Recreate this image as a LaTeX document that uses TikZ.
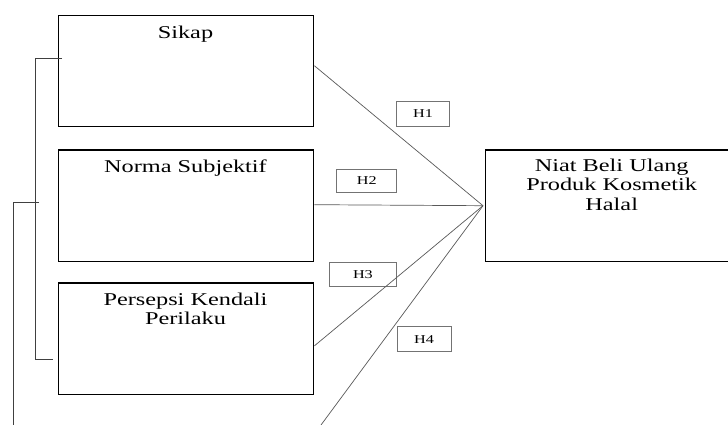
\documentclass[tikz,border=0pt]{standalone}
\usepackage{fontspec}
\setmainfont[FakeStretch=1.35]{Liberation Serif}
\usetikzlibrary{calc}
\begin{document}
\begin{tikzpicture}[x=1pt,y=-1pt,
  varbox/.style={draw=black,line width=1.4pt,rectangle,inner sep=0pt,anchor=north west},
  vartext/.style={font=\fontsize{18}{19.5}\selectfont,align=center,anchor=base,inner sep=0pt,text=black},
  hbox/.style={draw=black!55,line width=0.9pt,rectangle,inner sep=0pt,font=\fontsize{12}{13}\selectfont,text=black},
  conn/.style={draw=black!65,line width=0.7pt},
  brk/.style={draw=black!75,line width=0.8pt}]
\clip (0,0) rectangle (728,425);
\fill[white] (0,0) rectangle (728,425);
% boxes
\node[varbox,minimum width=255pt,minimum height=111.3pt] (sikap) at (58,14.7) {};
\node[varbox,minimum width=255pt,minimum height=111.4pt] (norma) at (58,149.3) {};
\node[varbox,minimum width=255pt,minimum height=111.7pt] (pkp) at (58,282.3) {};
\node[varbox,minimum width=253pt,minimum height=111.7pt] (niat) at (485,149.3) {};
% texts
\node[vartext] (tsikap) at (185.5,38.3) {Sikap};
\node[vartext] (tnorma) at (185.5,172.5) {Norma Subjektif};
\node[vartext,anchor=north] (tpkp) at (185.5,292.5) {Persepsi Kendali\\Perilaku};
\node[vartext,anchor=north] (tniat) at (611.7,158.5) {Niat Beli Ulang\\Produk Kosmetik\\Halal};
% hypothesis labels
\node[hbox,minimum width=53.5pt,minimum height=24.7pt] (h1) at (423,113.7) {H1};
\node[hbox,minimum width=60pt,minimum height=23.7pt] (h2) at (366.7,180.9) {H2};
\node[hbox,minimum width=67.7pt,minimum height=24.4pt] (h3) at (362.9,274.5) {H3};
\node[hbox,minimum width=54pt,minimum height=25pt] (h4) at (424,339.2) {H4};
% convergence
\coordinate (m) at (483,205.7);
\coordinate (h4end) at (321,425);
\draw[conn] ([yshift=5.3pt]sikap.east) -- (m);
\draw[conn] ([yshift=1pt]norma.east) -- (m);
\draw[conn] ([yshift=-7pt]pkp.east) -- (m);
\draw[conn] (h4end) -- (m);
% brackets
\coordinate (b1a) at (62,58);
\coordinate (b1b) at (35,58);
\coordinate (b1c) at (35,359);
\coordinate (b1d) at (53,359);
\draw[brk] (b1a) -- (b1b) -- (b1c) -- (b1d);
\coordinate (b2a) at (39,202);
\coordinate (b2b) at (13,202);
\coordinate (b2c) at (13,426);
\draw[brk] (b2a) -- (b2b) -- (b2c);
\end{tikzpicture}
\end{document}
